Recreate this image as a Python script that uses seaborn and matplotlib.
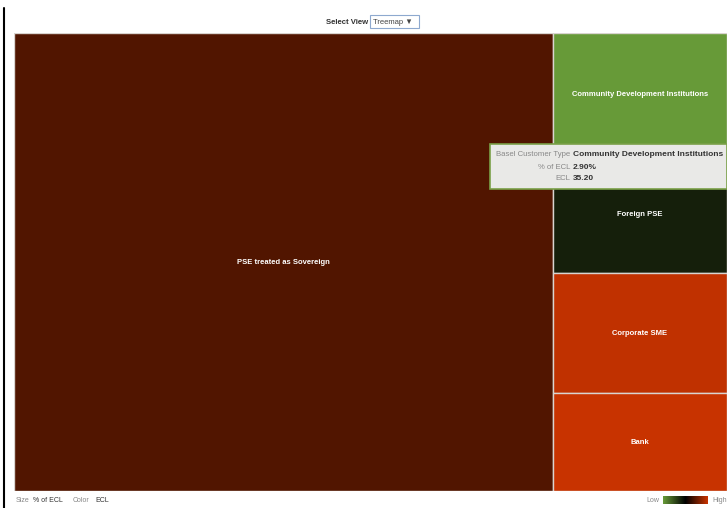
import numpy as np
import pandas as pd
import matplotlib
matplotlib.use("Agg")
import matplotlib.pyplot as plt
import seaborn as sns
from matplotlib.patches import Rectangle, FancyBboxPatch
from matplotlib.colors import LinearSegmentedColormap, Normalize
from matplotlib.lines import Line2D

# data (size = % of ECL, colour = ECL)
customer_types = ["PSE treated as Sovereign", "Community Development Institutions",
                  "Foreign PSE", "Corporate SME", "Bank"]
pct_ecl = [75.6, 6.5, 6.3, 6.4, 5.2]
ecl = [850.0, 35.20, 500.0, 1175.0, 1200.0]

tip_type = "Community Development Institutions"
tip_pct = "2.90%"
tip_ecl = "35.20"

sns.set_theme(style="white")
plt.rcParams['font.family'] = ['Liberation Sans', 'DejaVu Sans']

df = pd.DataFrame({"type": customer_types, "pct": pct_ecl, "ecl": ecl})

cmap = LinearSegmentedColormap.from_list("lowhigh", ["#679a38", "#000000", "#c83300"])
norm = Normalize(min(ecl), max(ecl))

fig = plt.figure(figsize=(7.27, 5.08), dpi=100)
W, H = 727, 508
ax = fig.add_axes([14 / W, 1 - 491 / H, 713 / W, 458 / H])
ax.set_xlim(0, 100)
ax.set_ylim(100, 0)
ax.axis("off")

# slice layout: first item as a full-height column, rest stacked on the right
total = df.pct.sum()
first_w = 100 * df.pct.iloc[0] / total
rects = [(0, 0, first_w, 100)]
rest = df.pct.iloc[1:]
y = 0
for v in rest:
    h = 100 * v / rest.sum()
    rects.append((first_w, y, 100 - first_w, h))
    y += h

for (x0, y0, w, h), row in zip(rects, df.itertuples()):
    ax.add_patch(Rectangle((x0, y0), w, h, facecolor=cmap(norm(row.ecl)),
                           edgecolor="#d9d4d0", linewidth=1.0))
    ax.text(x0 + w / 2, y0 + h / 2, row.type, color="white", ha="center", va="center",
            fontsize=5.5, fontweight="bold")

# header
fig.text(368 / W, 1 - 22 / H, "Select View", ha="right", va="center", fontsize=5.6,
         fontweight="bold", color="#333333")
fig.add_artist(FancyBboxPatch((370 / W, 1 - 28 / H), 49 / W, 13 / H,
                              boxstyle="square,pad=0", facecolor="white",
                              edgecolor="#8ea9cf", linewidth=0.8, transform=fig.transFigure))
fig.text(373 / W, 1 - 22 / H, "Treemap ▼", ha="left", va="center", fontsize=5.5,
         color="#444444")

# left frame line
fig.add_artist(Line2D([4 / W, 4 / W], [0, 1 - 8 / H], color="black", linewidth=1.5,
                      transform=fig.transFigure))

# footer
fig.text(16 / W, 1 - 500 / H, "Size", ha="left", va="center", fontsize=5, color="#888888")
fig.text(33 / W, 1 - 500 / H, "% of ECL", ha="left", va="center", fontsize=5, color="#333333")
fig.text(73 / W, 1 - 500 / H, "Color", ha="left", va="center", fontsize=5, color="#888888")
fig.text(95 / W, 1 - 500 / H, "ECL", ha="left", va="center", fontsize=5, color="#333333")
fig.text(659 / W, 1 - 500 / H, "Low", ha="right", va="center", fontsize=5, color="#888888")
fig.text(712 / W, 1 - 500 / H, "High", ha="left", va="center", fontsize=5, color="#888888")
cax = fig.add_axes([663 / W, 1 - 504 / H, 45 / W, 8 / H])
cax.imshow(np.linspace(0, 1, 100)[None, :], aspect="auto", cmap=cmap)
cax.set_xticks([])
cax.set_yticks([])
for s in cax.spines.values():
    s.set_visible(False)

# tooltip
fig.add_artist(FancyBboxPatch((490 / W, 1 - 189 / H), 237 / W, 45 / H,
                              boxstyle="square,pad=0", facecolor="#e9e9e7",
                              edgecolor="#7aa048", linewidth=1.2, transform=fig.transFigure))
rows = [("Basel Customer Type", tip_type), ("% of ECL", tip_pct), ("ECL", tip_ecl)]
for i, (lab, val) in enumerate(rows):
    yy = 1 - (155 + 12 * i) / H
    fig.text(570 / W, yy, lab, ha="right", va="center", fontsize=5.6, color="#888888")
    fig.text(573 / W, yy, val, ha="left", va="center", fontsize=6, fontweight="bold",
             color="#333333")

fig.savefig("out.png", dpi=100)
